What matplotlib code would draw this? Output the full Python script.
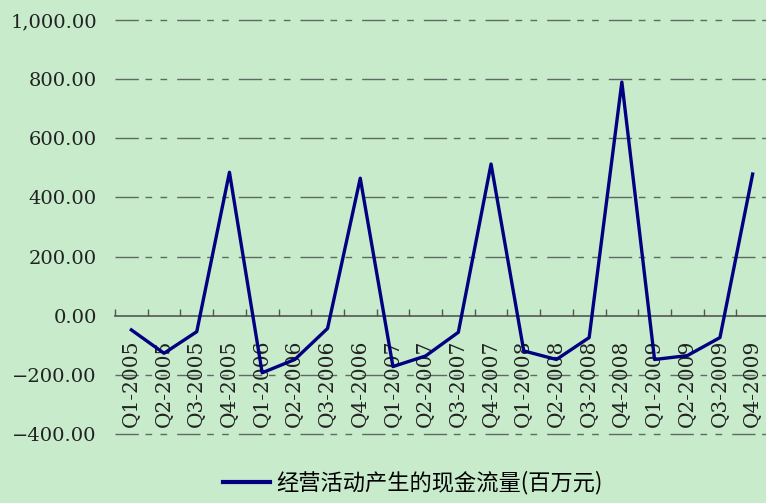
import matplotlib.pyplot as plt
from matplotlib.ticker import FuncFormatter

# quarterly operating cash flow (million yuan)
quarters = ['Q1-2005', 'Q2-2005', 'Q3-2005', 'Q4-2005',
            'Q1-2006', 'Q2-2006', 'Q3-2006', 'Q4-2006',
            'Q1-2007', 'Q2-2007', 'Q3-2007', 'Q4-2007',
            'Q1-2008', 'Q2-2008', 'Q3-2008', 'Q4-2008',
            'Q1-2009', 'Q2-2009', 'Q3-2009', 'Q4-2009']
cash_flow = [-48, -127, -54, 485,
             -193, -148, -43, 465,
             -172, -136, -56, 513,
             -119, -148, -74, 790,
             -148, -135, -74, 479]
series_name = '经营活动产生的现金流量(百万元)'
y_ticks = [-400, -200, 0, 200, 400, 600, 800, 1000]

bg = '#c7ebcb'
num_font = 'DejaVu Serif'
cjk_font = ['Noto Sans CJK SC', 'DejaVu Sans']

fig = plt.figure(figsize=(7.66, 5.03), dpi=100)
fig.patch.set_facecolor(bg)
ax = fig.add_axes([115 / 766, 1 - 434 / 503, 654 / 766, 414 / 503])
ax.set_facecolor(bg)

x = list(range(len(quarters)))
ax.plot(x, cash_flow, color='#000080', linewidth=2.4, label=series_name, zorder=3)

ax.set_xlim(-0.5, len(quarters) - 0.5)
ax.set_ylim(-400, 1000)

# grid lines: long dash + two short dashes
ax.set_yticks(y_ticks)
for v in y_ticks:
    if v != 0:
        ax.axhline(v, color='#5f6b60', linewidth=1, dashes=(16.8, 4.8, 4.8, 6, 4.8, 7.2),
                   zorder=1, clip_on=False)

ax.yaxis.set_major_formatter(FuncFormatter(lambda v, p: f'{v:,.2f}'.replace('-', '\u2212')))
ax.tick_params(axis='y', length=0, pad=13, labelsize=14)
for lab in ax.get_yticklabels():
    lab.set_fontfamily(num_font)
    lab.set_color('#222222')

# x axis sits at zero, ticks between categories
for s in ['left', 'right', 'top']:
    ax.spines[s].set_visible(False)
ax.spines['bottom'].set_position(('data', 0))
ax.spines['bottom'].set_color('#555555')
ax.spines['bottom'].set_linewidth(1.2)
ax.set_xticks([i + 0.5 for i in x[:-1]] + [-0.5], minor=False)
ax.set_xticklabels([])
ax.tick_params(axis='x', direction='in', length=5, color='#555555', width=1)
ax.set_xticks(x, minor=True)
ax.set_xticklabels(quarters, minor=True, rotation=90, fontsize=14.5, fontfamily=num_font, color='#222222')
ax.tick_params(axis='x', which='minor', length=0, pad=17)
for lab in ax.get_xticklabels(minor=True):
    lab.set_verticalalignment('top')

leg = fig.legend(loc='center', bbox_to_anchor=(413 / 766, 1 - 483 / 503), frameon=False,
                 prop={'family': cjk_font, 'size': 16}, handlelength=2.1, handletextpad=0.3)
leg.get_lines()[0].set_linewidth(3)

fig.savefig('out.png', dpi=100, facecolor=bg)
